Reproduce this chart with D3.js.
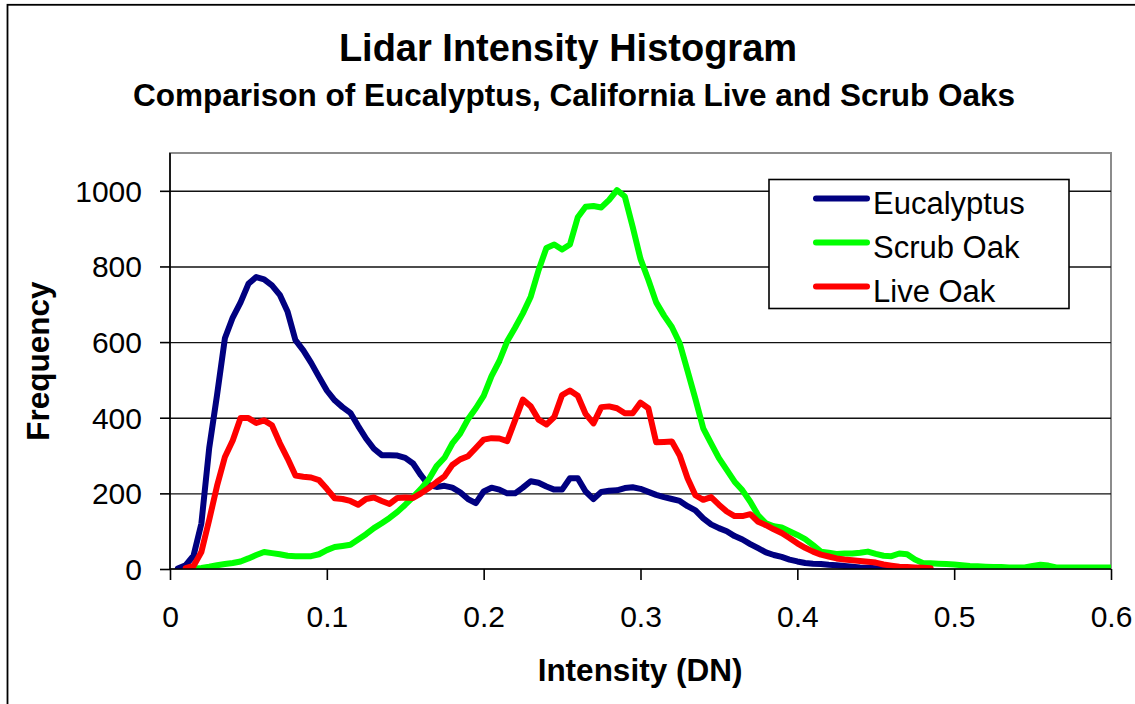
<!DOCTYPE html>
<html>
<head>
<meta charset="utf-8">
<script src="https://cdn.jsdelivr.net/npm/d3@7"></script>
<style>
  html, body { margin: 0; padding: 0; background: #fff; }
  svg { display: block; }
  text { font-family: "Liberation Sans", Arial, sans-serif; }
</style>
</head>
<body>
<svg id="chart" width="1135" height="704"></svg>
<script>
// ---------------- data ----------------
const intensity = [
  0.005,0.010,0.015,0.020,0.025,0.030,0.035,0.040,0.045,0.050,
  0.055,0.060,0.065,0.070,0.075,0.080,0.085,0.090,0.095,0.100,
  0.105,0.110,0.115,0.120,0.125,0.130,0.135,0.140,0.145,0.150,
  0.155,0.160,0.165,0.170,0.175,0.180,0.185,0.190,0.195,0.200,
  0.205,0.210,0.215,0.220,0.225,0.230,0.235,0.240,0.245,0.250,
  0.255,0.260,0.265,0.270,0.275,0.280,0.285,0.290,0.295,0.300,
  0.305,0.310,0.315,0.320,0.325,0.330,0.335,0.340,0.345,0.350,
  0.355,0.360,0.365,0.370,0.375,0.380,0.385,0.390,0.395,0.400,
  0.405,0.410,0.415,0.420,0.425,0.430,0.435,0.440,0.445,0.450,
  0.455,0.460,0.465,0.470,0.475,0.480,0.485,0.490,0.495,0.500,
  0.505,0.510,0.515,0.520,0.525,0.530,0.535,0.540,0.545,0.550,
  0.555,0.560,0.565,0.570,0.575,0.580,0.585,0.590,0.595,0.600
];

const eucalyptus = [
  1,10,35,120,320,460,610,665,705,754,
  772,766,750,725,680,605,578,545,508,472,
  446,428,413,378,345,318,301,301,300,294,
  279,248,222,217,220,215,203,185,174,205,
  215,210,200,200,215,232,228,218,210,210,
  240,240,205,185,204,207,208,214,216,212,
  204,196,190,185,180,166,155,134,118,108,
  100,87,78,66,55,44,37,32,25,20,
  16,14,13,11,10,8,6,4,3,2,
  1,0,null,null,null,null,null,null,null,null,
  null,null,null,null,null,null,null,null,null,null,
  null,null,null,null,null,null,null,null,null,null
];

const scrubOak = [
  null,null,1,3,6,10,13,16,20,28,
  37,45,42,39,35,34,34,34,39,50,
  58,61,64,78,92,108,121,135,151,170,
  190,212,237,272,294,332,358,396,425,458,
  510,550,602,638,676,720,790,849,858,845,
  858,930,958,960,956,976,1002,985,905,820,
  765,705,670,640,597,524,450,372,332,293,
  262,231,208,178,142,121,113,110,100,90,
  79,63,46,43,40,41,41,43,46,40,
  35,34,41,39,25,16,15,14,13,12,
  10,8,7,6,5,5,4,4,4,8,
  11,9,4,4,4,4,4,4,4,4
];

const liveOak = [
  null,2,8,45,130,220,296,340,399,399,
  386,393,380,333,292,247,244,242,235,212,
  187,185,180,170,185,189,180,172,188,189,
  188,200,214,230,245,275,290,298,320,342,
  346,345,338,393,448,430,395,382,402,460,
  472,458,410,385,428,430,425,412,412,440,
  425,335,336,337,300,240,195,183,190,170,
  152,140,140,145,125,116,105,95,82,68,
  56,46,38,33,28,25,23,21,19,17,
  12,9,6,5,4,3,2,null,null,null,
  null,null,null,null,null,null,null,null,null,null,
  null,null,null,null,null,null,null,null,null,null
];

const seriesNames  = ["Eucalyptus", "Scrub Oak", "Live Oak"];
const seriesColors = ["#000080", "#00FF00", "#FF0000"];
const xTickValues = [0, 0.1, 0.2, 0.3, 0.4, 0.5, 0.6];
const xTickLabels = ["0", "0.1", "0.2", "0.3", "0.4", "0.5", "0.6"];
const yTickValues = [0, 200, 400, 600, 800, 1000];
const yTickLabels = ["0", "200", "400", "600", "800", "1000"];

// ---------------- layout ----------------
const svg = d3.select("#chart");
const W = 1135, H = 704;
const plot = { left: 170, right: 1111, top: 153, bottom: 569 };

svg.append("rect").attr("width", W).attr("height", H).attr("fill", "#fff");
// outer chart frame (extends beyond the window on right/bottom)
svg.append("rect")
  .attr("x", 7.5).attr("y", 4.8).attr("width", 1300).attr("height", 900)
  .attr("fill", "none").attr("stroke", "#000").attr("stroke-width", 1.8);

const x = d3.scaleLinear().domain([0, 0.6]).range([plot.left, plot.right]);
const y = d3.scaleLinear().domain([0, 1100]).range([plot.bottom, plot.top]);

// titles
svg.append("text")
  .attr("x", 568).attr("y", 61)
  .attr("text-anchor", "middle")
  .attr("font-size", 38).attr("font-weight", "bold")
  .text("Lidar Intensity Histogram");
svg.append("text")
  .attr("x", 574).attr("y", 106)
  .attr("text-anchor", "middle")
  .attr("font-size", 31.5).attr("font-weight", "bold")
  .text("Comparison of Eucalyptus, California Live and Scrub Oaks");

// plot area border (gray, top & right)
svg.append("rect")
  .attr("x", plot.left).attr("y", plot.top)
  .attr("width", plot.right - plot.left).attr("height", plot.bottom - plot.top)
  .attr("fill", "#fff").attr("stroke", "#8c8c8c").attr("stroke-width", 2);

// gridlines
const grid = svg.append("g")
  .attr("transform", `translate(${plot.left},0)`)
  .call(d3.axisLeft(y).tickValues(yTickValues.filter(v => v > 0))
    .tickSize(-(plot.right - plot.left)).tickFormat(""));
grid.select(".domain").remove();
grid.selectAll(".tick line").attr("stroke", "#111").attr("stroke-width", 1.4);

// series lines
svg.append("clipPath").attr("id", "plotclip")
  .append("rect")
  .attr("x", plot.left).attr("y", plot.top)
  .attr("width", plot.right - plot.left).attr("height", plot.bottom - plot.top);

const allSeries = [eucalyptus, scrubOak, liveOak];
const line = d3.line()
  .defined(d => d[1] !== null)
  .x(d => x(d[0]))
  .y(d => y(d[1]));

const linesG = svg.append("g").attr("clip-path", "url(#plotclip)");
allSeries.forEach((vals, i) => {
  const pts = intensity.map((v, k) => [v, vals[k]]);
  linesG.append("path")
    .attr("d", line(pts))
    .attr("fill", "none")
    .attr("stroke", seriesColors[i])
    .attr("stroke-width", 6)
    .attr("stroke-linejoin", "round")
    .attr("stroke-linecap", "round");
});

// axes
const yAxis = svg.append("g")
  .attr("transform", `translate(${plot.left},0)`)
  .call(d3.axisLeft(y).tickValues(yTickValues).tickSize(10).tickPadding(18)
    .tickFormat((d, i) => yTickLabels[i]));
yAxis.select(".domain").attr("stroke", "#000").attr("stroke-width", 1.6)
  .attr("d", `M0,${plot.top}V${plot.bottom}`);
yAxis.selectAll(".tick line").attr("stroke", "#000").attr("stroke-width", 1.6);
yAxis.selectAll(".tick text")
  .attr("font-size", 30).attr("fill", "#000")
  .attr("font-family", "Liberation Sans, Arial, sans-serif")
  .attr("dy", "0.35em").attr("x", -28);

const xAxis = svg.append("g")
  .attr("transform", `translate(0,${plot.bottom})`)
  .call(d3.axisBottom(x).tickValues(xTickValues).tickSize(11).tickPadding(20)
    .tickFormat((d, i) => xTickLabels[i]));
xAxis.select(".domain").attr("stroke", "#000").attr("stroke-width", 1.6)
  .attr("d", `M${plot.left},0H${plot.right}`);
xAxis.selectAll(".tick line").attr("stroke", "#000").attr("stroke-width", 1.6);
xAxis.selectAll(".tick text")
  .attr("font-size", 30).attr("fill", "#000")
  .attr("font-family", "Liberation Sans, Arial, sans-serif")
  .attr("y", 58).attr("dy", 0);

// axis titles
svg.append("text")
  .attr("x", 640).attr("y", 681)
  .attr("text-anchor", "middle")
  .attr("font-size", 31.5).attr("font-weight", "bold")
  .text("Intensity (DN)");
svg.append("text")
  .attr("transform", `translate(49,${(plot.top + plot.bottom) / 2}) rotate(-90)`)
  .attr("text-anchor", "middle")
  .attr("font-size", 31.5).attr("font-weight", "bold")
  .text("Frequency");

// legend
const lg = svg.append("g");
lg.append("rect")
  .attr("x", 769).attr("y", 179.5).attr("width", 300).attr("height", 129)
  .attr("fill", "#fff").attr("stroke", "#000").attr("stroke-width", 1.6);
const legendY = [198.5, 242.5, 286.5];
seriesNames.forEach((name, i) => {
  lg.append("line")
    .attr("x1", 816).attr("x2", 867)
    .attr("y1", legendY[i]).attr("y2", legendY[i])
    .attr("stroke", seriesColors[i]).attr("stroke-width", 6)
    .attr("stroke-linecap", "round");
  lg.append("text")
    .attr("x", 873).attr("y", legendY[i] + 15)
    .attr("font-size", 31).attr("fill", "#000")
    .text(name);
});
</script>
</body>
</html>
